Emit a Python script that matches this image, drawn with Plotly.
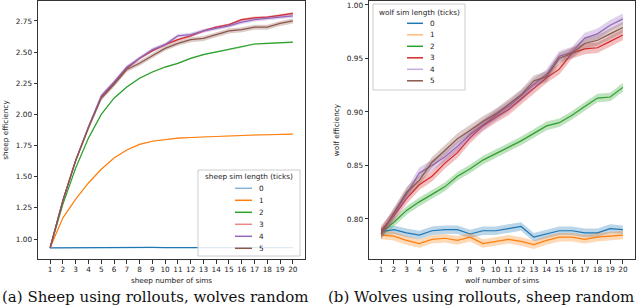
import plotly.graph_objects as go

SIMS = list(range(1, 21))
NAMES = ["0", "1", "2", "3", "4", "5"]
COLORS = ["#1f77b4", "#ff7f0e", "#2ca02c", "#d62728", "#9467bd", "#8c564b"]

# (a) sheep efficiency per sheep sim length
sheep_0 = [0.930, 0.931, 0.931, 0.931, 0.932, 0.932, 0.933, 0.933, 0.933, 0.932, 0.932, 0.932, 0.931, 0.931, 0.931, 0.931, 0.931, 0.931, 0.931, 0.931]
sheep_1 = [0.930, 1.170, 1.320, 1.450, 1.560, 1.650, 1.715, 1.760, 1.785, 1.800, 1.810, 1.815, 1.820, 1.825, 1.830, 1.832, 1.835, 1.837, 1.840, 1.842]
sheep_2 = [0.930, 1.280, 1.570, 1.810, 2.000, 2.130, 2.220, 2.290, 2.340, 2.380, 2.410, 2.450, 2.480, 2.500, 2.520, 2.540, 2.565, 2.570, 2.575, 2.580]
sheep_3 = [0.930, 1.310, 1.630, 1.900, 2.140, 2.250, 2.370, 2.450, 2.510, 2.560, 2.600, 2.630, 2.670, 2.700, 2.720, 2.760, 2.775, 2.780, 2.795, 2.810]
sheep_4 = [0.930, 1.310, 1.630, 1.900, 2.150, 2.260, 2.380, 2.450, 2.520, 2.560, 2.630, 2.640, 2.670, 2.690, 2.710, 2.740, 2.760, 2.770, 2.780, 2.790]
sheep_5 = [0.930, 1.310, 1.630, 1.890, 2.130, 2.240, 2.360, 2.410, 2.470, 2.530, 2.570, 2.600, 2.610, 2.640, 2.670, 2.680, 2.700, 2.700, 2.730, 2.750]
sheep_ci = [0.003, 0.004, 0.006, 0.010, 0.015, 0.020]

# (b) wolf efficiency per wolf sim length
wolf_0 = [0.788, 0.790, 0.787, 0.785, 0.789, 0.790, 0.790, 0.786, 0.789, 0.789, 0.791, 0.793, 0.783, 0.786, 0.789, 0.789, 0.787, 0.787, 0.791, 0.790]
wolf_1 = [0.785, 0.784, 0.780, 0.777, 0.781, 0.782, 0.780, 0.783, 0.777, 0.779, 0.781, 0.779, 0.776, 0.780, 0.783, 0.783, 0.781, 0.783, 0.784, 0.785]
wolf_2 = [0.787, 0.797, 0.808, 0.816, 0.823, 0.830, 0.840, 0.847, 0.855, 0.861, 0.867, 0.873, 0.880, 0.887, 0.890, 0.897, 0.905, 0.913, 0.914, 0.923]
wolf_3 = [0.789, 0.803, 0.819, 0.832, 0.840, 0.852, 0.862, 0.876, 0.887, 0.895, 0.902, 0.912, 0.922, 0.932, 0.940, 0.955, 0.959, 0.960, 0.966, 0.972]
wolf_4 = [0.786, 0.804, 0.823, 0.843, 0.850, 0.858, 0.868, 0.879, 0.888, 0.897, 0.905, 0.915, 0.926, 0.935, 0.952, 0.956, 0.969, 0.973, 0.981, 0.987]
wolf_5 = [0.786, 0.806, 0.825, 0.836, 0.853, 0.864, 0.875, 0.883, 0.891, 0.898, 0.907, 0.916, 0.929, 0.933, 0.950, 0.955, 0.964, 0.967, 0.973, 0.979]
wolf_ci = [0.004, 0.004, 0.004, 0.005, 0.005, 0.005]

SHEEP = [sheep_0, sheep_1, sheep_2, sheep_3, sheep_4, sheep_5]
WOLF = [wolf_0, wolf_1, wolf_2, wolf_3, wolf_4, wolf_5]

Y_TICKS_A = [1.00, 1.25, 1.50, 1.75, 2.00, 2.25, 2.50, 2.75]
Y_TICKS_B = [0.80, 0.85, 0.90, 0.95, 1.00]


def rgba(hex_color, a):
    h = hex_color.lstrip("#")
    r, g, b = int(h[0:2], 16), int(h[2:4], 16), int(h[4:6], 16)
    return f"rgba({r},{g},{b},{a})"


fig = go.Figure()


def add_group(data, cis, xa, ya):
    for vals, ci, name, color in zip(data, cis, NAMES, COLORS):
        upper = [v + ci for v in vals]
        lower = [v - ci for v in vals]
        fig.add_trace(go.Scatter(
            x=SIMS + SIMS[::-1], y=upper + lower[::-1], fill="toself",
            fillcolor=rgba(color, 0.3), line=dict(width=0), mode="lines",
            showlegend=False, hoverinfo="skip", xaxis=xa, yaxis=ya))
        fig.add_trace(go.Scatter(
            x=SIMS, y=vals, mode="lines", name=name, showlegend=False,
            line=dict(color=color, width=1.2), xaxis=xa, yaxis=ya))


add_group(SHEEP, sheep_ci, "x", "y")
add_group(WOLF, wolf_ci, "x2", "y2")

W, H = 640, 308
FONT = dict(family="DejaVu Sans", size=7.3, color="#222")

axis_common = dict(showline=True, mirror=True, linecolor="#333", linewidth=1,
                   ticks="outside", ticklen=3.5, tickwidth=0.8, tickcolor="#333",
                   showgrid=False, zeroline=False, tickfont=FONT)

fig.update_layout(
    width=W, height=H, margin=dict(l=0, r=0, t=0, b=0),
    paper_bgcolor="white", plot_bgcolor="white", font=FONT, showlegend=False,
    xaxis=dict(domain=[38 / W, 305 / W], range=[0.05, 20.95], tickvals=SIMS,
               title=dict(text="sheep number of sims", font=FONT, standoff=4), anchor="y", **axis_common),
    yaxis=dict(domain=[(H - 259) / H, (H - 1) / H], range=[0.84, 2.91], tickvals=Y_TICKS_A,
               tickformat=".2f", title=dict(text="sheep efficiency", font=FONT, standoff=6), anchor="x", **axis_common),
    xaxis2=dict(domain=[369 / W, 635 / W], range=[0.05, 20.95], tickvals=SIMS,
                title=dict(text="wolf number of sims", font=FONT, standoff=4), anchor="y2", **axis_common),
    yaxis2=dict(domain=[(H - 259) / H, (H - 1) / H], range=[0.7626, 1.0037], tickvals=Y_TICKS_B,
                tickformat=".2f", title=dict(text="wolf efficiency", font=FONT, standoff=6), anchor="x2", **axis_common),
)


# legend boxes (matplotlib-style, compact)
def px(x):
    return x / W


def py(y):
    return (H - y) / H


def add_legend(title, box, title_y, handle_x, label_x, entry_y0, entry_dy, faded):
    x0, y0, x1, y1 = box
    fig.add_shape(type="rect", xref="paper", yref="paper", x0=px(x0), x1=px(x1), y0=py(y1), y1=py(y0),
                  fillcolor="rgba(255,255,255,0.85)", line=dict(color="#cccccc", width=1), layer="above")
    fig.add_annotation(text=title, xref="paper", yref="paper", x=px((x0 + x1) / 2), y=py(title_y),
                       xanchor="center", yanchor="middle", showarrow=False, font=FONT)
    for i, (name, color) in enumerate(zip(NAMES, COLORS)):
        yy = entry_y0 + i * entry_dy
        fig.add_shape(type="line", xref="paper", yref="paper", x0=px(handle_x[0]), x1=px(handle_x[1]),
                      y0=py(yy), y1=py(yy), layer="above",
                      line=dict(color=rgba(color, 0.55) if i in faded else color, width=1.5))
        fig.add_annotation(text=name, xref="paper", yref="paper", x=px(label_x), y=py(yy),
                           xanchor="left", yanchor="middle", showarrow=False, font=FONT)


add_legend("sheep sim length (ticks)", (198, 170, 300, 256), 176.5, (235, 252), 257, 188.3, 12.0, {0, 3})
add_legend("wolf sim length (ticks)", (373, 4, 465, 90), 12, (407, 423), 428, 23.3, 11.5, {1, 4})

CAP_FONT = dict(family="DejaVu Serif", size=15, color="#111")
fig.add_annotation(text="(a) Sheep using rollouts, wolves random", xref="paper", yref="paper",
                   x=0, y=0, xanchor="left", yanchor="bottom", showarrow=False, font=CAP_FONT)
fig.add_annotation(text="(b) Wolves using rollouts, sheep random", xref="paper", yref="paper",
                   x=326 / W, y=0, xanchor="left", yanchor="bottom", showarrow=False, font=CAP_FONT)

fig.write_html("out.html", config={"displayModeBar": False},
               post_script="document.body.style.margin='0';document.body.style.overflow='hidden';")
